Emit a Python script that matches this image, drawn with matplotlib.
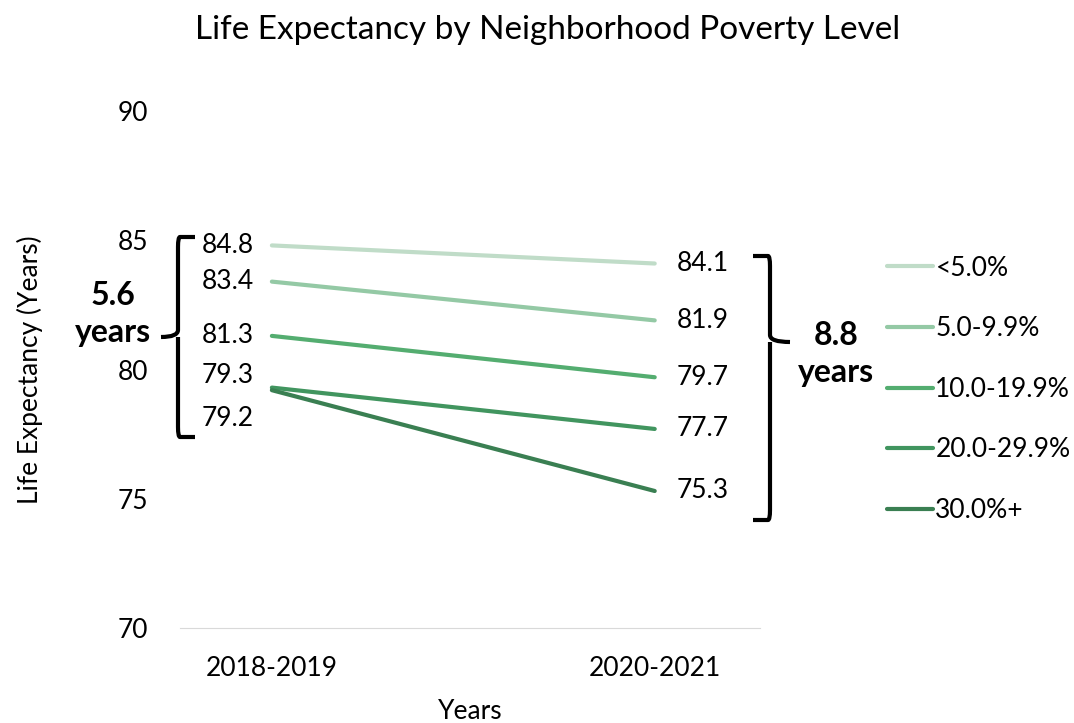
import matplotlib
matplotlib.use("Agg")
import matplotlib.pyplot as plt
from matplotlib.path import Path
from matplotlib.patches import PathPatch

plt.rcParams['font.family'] = ['Lato', 'DejaVu Sans']

periods = ["2018-2019", "2020-2021"]
groups = ["<5.0%", "5.0-9.9%", "10.0-19.9%", "20.0-29.9%", "30.0%+"]
start_vals = [84.8, 83.4, 81.3, 79.3, 79.2]
end_vals = [84.1, 81.9, 79.7, 77.7, 75.3]
colors = ["#c0dcc8", "#94c9a5", "#54ad70", "#41955f", "#3a7f52"]
gap_start = "5.6\nyears"
gap_end = "8.8\nyears"

W, H = 1074, 723
fig = plt.figure(figsize=(W / 100, H / 100), dpi=100)
ax = fig.add_axes([180 / W, 1 - 628 / H, 580 / W, (628 - 111) / H])


def px(x, y):
    return x / W, 1 - y / H


for g, a, b, c in zip(groups, start_vals, end_vals, colors):
    ax.plot([0, 1], [a, b], color=c, lw=3, label=g, solid_capstyle='round')

ax.set_xlim(-0.24, 1.275)
ax.set_ylim(70, 90)
ax.set_yticks([70, 75, 80, 85, 90])
ax.set_xticks([0, 1])
ax.set_xticklabels(periods)
ax.tick_params(axis='both', length=0, labelsize=19)
ax.tick_params(axis='y', pad=23)
ax.tick_params(axis='x', pad=20)
for s in ["top", "right", "left"]:
    ax.spines[s].set_visible(False)
ax.spines["bottom"].set_color("#d9d9d9")

ax.set_ylabel("Life Expectancy (Years)", fontsize=19, labelpad=54)
ax.set_xlabel("Years", fontsize=19, labelpad=13)
fig.text(0.51, 1 - 30 / H, "Life Expectancy by Neighborhood Poverty Level",
         ha='center', va='center', fontsize=24)

# value labels (positions nudged where lines overlap)
start_offsets = [0, 0, 0, 0.45, -1.1]
for v, o in zip(start_vals, start_offsets):
    ax.annotate(f"{v}", (0, v + o), xytext=(-18, 0), textcoords='offset pixels',
                ha='right', va='center', fontsize=19)
for v in end_vals:
    ax.annotate(f"{v}", (1, v), xytext=(22, 0), textcoords='offset pixels',
                ha='left', va='center', fontsize=19)


def brace(x, y0, y1, mid, tip, side):
    # side=+1: arms point right, tip points left
    r = 10
    arm = 17 * side
    pts = [(x + arm, y0), (x + side * 2, y0), (x, y0), (x, y0 + r),
           (x, mid - 7), (x, mid), (x - side * tip, mid),
           (x, mid), (x, mid + 7),
           (x, y1 - r), (x, y1), (x + side * 2, y1), (x + arm, y1)]
    codes = [Path.MOVETO, Path.LINETO, Path.CURVE3, Path.CURVE3,
             Path.LINETO, Path.CURVE3, Path.CURVE3,
             Path.MOVETO, Path.CURVE3,
             Path.LINETO, Path.CURVE3, Path.CURVE3, Path.LINETO]
    verts = [px(*p) for p in pts]
    fig.add_artist(PathPatch(Path(verts, codes), fill=False, lw=3,
                             color="black", transform=fig.transFigure,
                             capstyle='butt', joinstyle='round'))


brace(178, 237, 437, 337, 17, 1)
brace(770, 256, 520, 342, 20, -1)

fig.text(*px(113, 314), gap_start, ha='center', va='center', fontsize=23,
         fontweight='bold', linespacing=1.3)
fig.text(*px(836, 354), gap_end, ha='center', va='center', fontsize=23,
         fontweight='bold', linespacing=1.3)

ax.legend(loc='upper left', bbox_to_anchor=px(876, 245), bbox_transform=fig.transFigure,
          frameon=False, fontsize=19, handlelength=1.75, handletextpad=0.1,
          labelspacing=1.35, borderaxespad=0)

fig.savefig("out.png", dpi=100)
